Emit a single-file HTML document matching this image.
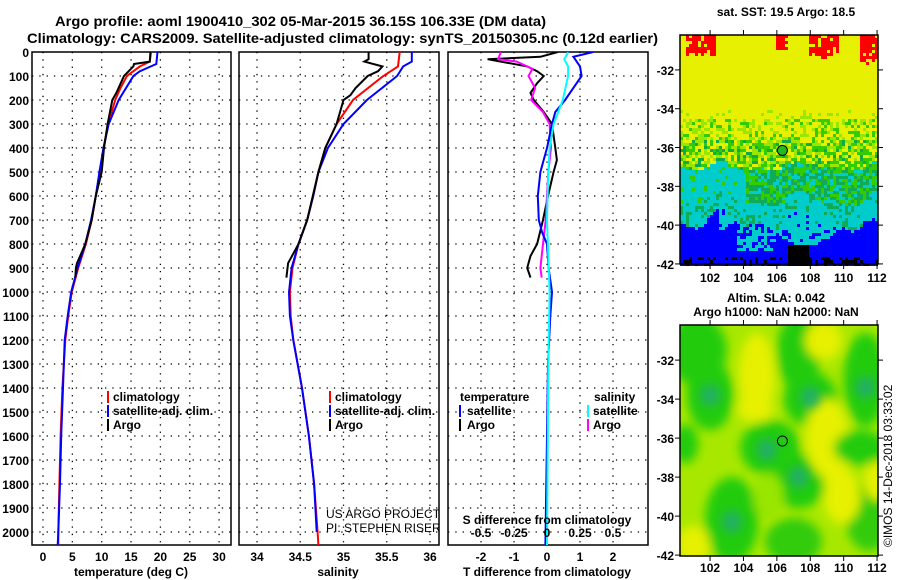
<!DOCTYPE html>
<html><head><meta charset="utf-8"><style>
body{margin:0;background:#fff}
svg{display:block}
text{font-family:"Liberation Sans",sans-serif;font-weight:bold;font-size:12px;fill:#000}
.t{font-size:14px}
.lt{font-weight:normal}
</style></head><body>
<svg id="s" width="900" height="580" viewBox="0 0 900 580" xmlns="http://www.w3.org/2000/svg">
<defs>
<clipPath id="c1"><rect x="32" y="52" width="199" height="493"/></clipPath>
<clipPath id="c2"><rect x="239" y="52" width="200" height="493"/></clipPath>
<clipPath id="c3"><rect x="448" y="52" width="200" height="493"/></clipPath>
<clipPath id="cm2"><rect x="680" y="325" width="198" height="231"/></clipPath>
<filter id="bl" x="-50%" y="-50%" width="200%" height="200%"><feGaussianBlur stdDeviation="5"/></filter>
</defs>
<text class="t" x="55" y="26" textLength="491" lengthAdjust="spacingAndGlyphs">Argo profile: aoml 1900410_302 05-Mar-2015 36.15S 106.33E (DM data)</text>
<text class="t" x="27" y="43" textLength="631" lengthAdjust="spacingAndGlyphs">Climatology: CARS2009. Satellite-adjusted climatology: synTS_20150305.nc (0.12d earlier)</text>
<g id="g"></g>
</svg>
<script>
// ---- data ----
const tClimDepth=[0,40,60,100,150,200,300,400,500,600,700,800,900,1000,1100,1200,1400,1600,1800,2000,2054];
const tClim=[18.4,18.2,16.5,14.3,13.2,12.3,11.1,10.3,9.7,9.0,8.3,7.3,6.0,4.9,4.3,3.8,3.3,3.0,2.8,2.6,2.6];
const tSatDepth=[0,50,80,100,200,300,400,500,600,700,800,900,1000,1100,1200,1400,1600,1800,2000,2054];
const tSat=[19.5,19.3,16.5,15.4,12.9,11.2,10.3,9.6,9.0,8.2,7.2,5.9,4.8,4.2,3.7,3.4,3.1,2.9,2.6,2.5];
const tArgoDepth=[0,40,50,60,100,170,200,300,400,500,600,700,800,880,900,940];
const tArgo=[18.3,18.2,15.5,15.4,13.8,12.5,11.8,11.0,10.4,10.0,9.0,8.3,7.2,5.8,5.6,5.5];
const sClimDepth=[0,60,100,200,300,400,500,600,700,800,900,1000,1100,1200,1400,1600,1800,2000,2054];
const sClim=[35.65,35.63,35.46,35.11,34.92,34.79,34.71,34.65,34.58,34.48,34.41,34.38,34.39,34.42,34.52,34.60,34.66,34.70,34.71];
const sSatDepth=[0,40,60,100,200,300,400,500,600,700,800,900,1000,1100,1200,1400,1600,1800,2000];
const sSat=[35.79,35.79,35.69,35.62,35.27,35.0,34.82,34.71,34.65,34.58,34.48,34.40,34.37,34.38,34.42,34.52,34.60,34.66,34.69];
const sArgoDepth=[0,30,40,60,80,100,150,180,200,300,400,500,700,800,880,940];
const sArgo=[35.29,35.29,35.24,35.45,35.40,35.28,35.14,35.08,35.0,34.92,34.79,34.71,34.58,34.48,34.36,34.34];
const dTArgoDepth=[0,20,30,40,60,80,100,130,170,200,250,300,400,450,500,600,700,800,850,900,940];
const dTArgo=[0.33,-0.2,-1.8,-1.4,-0.6,-0.3,-0.1,-0.3,-0.5,-0.4,-0.1,0.15,0.25,0.3,0.2,0.03,-0.12,-0.3,-0.5,-0.6,-0.5];
const dSArgoDepth=[0,30,40,70,100,150,200,250,300,400,500,600,700,800,900,940];
const dSArgo=[-0.35,-0.37,-0.23,-0.11,-0.14,-0.09,-0.12,-0.03,0.02,0.03,0.01,0,-0.01,-0.03,-0.05,-0.04];
const dTSatDepth=[0,20,60,100,200,250,300,400,500,600,700,750,800,900,1000,1100,1300,1600,2054];
const dTSat=[1.4,0.8,1.0,1.05,0.55,0.25,0.15,0,-0.2,-0.28,-0.25,-0.15,0,0.05,0.15,0.1,0.03,0,-0.05];
const dSSatDepth=[0,30,60,100,200,300,400,500,700,1000,1300,2054];
const dSSat=[0.16,0.13,0.16,0.16,0.12,0.05,0.02,0.01,0,0.02,0.01,0];
const depthTicks=[0,100,200,300,400,500,600,700,800,900,1000,1100,1200,1300,1400,1500,1600,1700,1800,1900,2000];
const tTicks=[0,5,10,15,20,25,30];
const sTicks=[34,34.5,35,35.5,36];
const sTickLabels=["34","34.5","35","35.5","36"];
const dTTicks=[-2,-1,0,1,2];
const dSTicks=[-0.5,-0.25,0,0.25,0.5];
const dSTickLabels=["-0.5","-0.25","0","0.25","0.5"];
const latTicks=[-32,-34,-36,-38,-40,-42];
const lonTicks=[102,104,106,108,110,112];
const argoLon=106.33, argoLat=-36.15;
// ---- scales ----
const yD=d=>52+d*0.24;
const xT=v=>43+v*5.87;
const xS=v=>257+(v-34)*86.5;
const xdT=v=>547+v*33;
const xdS=v=>547+v*132;
const mx=lon=>680+(lon-100.2)*16.7;
const my1=lat=>35+(-30.2-lat)*19.4;
const my2=lat=>325+(-30.2-lat)*19.5;
const NS="http://www.w3.org/2000/svg";
const G=document.getElementById('g');
function el(tag,attrs,parent){const e=document.createElementNS(NS,tag);for(const k in attrs)e.setAttribute(k,attrs[k]);(parent||G).appendChild(e);return e;}
function txt(x,y,s,anchor,parent,cls){const e=el('text',{x:x,y:y,'text-anchor':anchor||'start'},parent);if(cls)e.setAttribute('class',cls);e.textContent=s;return e;}

function panel(x0,w,name,xs,ticks,labels){
  const g=el('g',{});
  
  
  el('rect',{x:x0,y:52,width:w,height:493,fill:'none',stroke:'#000','stroke-width':1.5},g);
  depthTicks.forEach(d=>{if(d>0){const l=el('line',{x1:x0,x2:x0+w,y1:yD(d),y2:yD(d),stroke:'#000','stroke-dasharray':'1.3,6','stroke-width':1.3},g);}});
  ticks.forEach((t,i)=>{const l=el('line',{x1:xs(t),x2:xs(t),y1:52,y2:545,stroke:'#000','stroke-dasharray':'1.3,6','stroke-width':1.3},g);
    if(labels){const e=txt(xs(t),561,labels[i],'middle',g);}});
  return g;
}
function line(depths,vals,xs,color,clip,name,w){
  const pts=depths.map((d,i)=>xs(vals[i]).toFixed(1)+','+yD(d).toFixed(1)).join(' ');
  const p=el('polyline',{points:pts,fill:'none',stroke:color,'stroke-width':w||2,'clip-path':'url(#'+clip+')'});
  
  
}
depthTicks.forEach(d=>{const e=txt(29,yD(d)+5,String(d),'end');});
panel(32,199,'temperature-panel',xT,tTicks,tTicks.map(String));
line(tClimDepth,tClim,xT,'#f00','c1','temp-climatology-line');
line(tSatDepth,tSat,xT,'#00f','c1','temp-satellite-line');
line(tArgoDepth,tArgo,xT,'#000','c1','temp-argo-line');
let e=txt(131,576,'temperature (deg C)','middle');
panel(239,200,'salinity-panel',xS,sTicks,sTickLabels);
line(sClimDepth,sClim,xS,'#f00','c2','sal-climatology-line');
line(sSatDepth,sSat,xS,'#00f','c2','sal-satellite-line');
line(sArgoDepth,sArgo,xS,'#000','c2','sal-argo-line');
e=txt(338,576,'salinity','middle');
[[107,113],[329,335]].forEach(([bx,tx],k)=>{
  [['climatology','#f00'],['satellite-adj. clim.','#00f'],['Argo','#000']].forEach(([s,c],i)=>{
    const y=397+i*14;
    const r=el('rect',{x:bx,y:y-6,width:2,height:12,fill:c});
    const t=txt(tx,y+4,s,'start',null);t.setAttribute('clip-path',k?'url(#c2)':'url(#c1)');
  });
});
e=txt(326,518,'US ARGO PROJECT','start',null,'lt');e.setAttribute('clip-path','url(#c2)');
e=txt(326,532,'PI: STEPHEN RISER','start',null,'lt');e.setAttribute('clip-path','url(#c2)');
panel(448,200,'difference-panel',xdT,dTTicks,dTTicks.map(String));
line(dTArgoDepth,dTArgo,xdT,'#000','c3','tdiff-argo-line');
line(dSArgoDepth,dSArgo,xdS,'#f0f','c3','sdiff-argo-line');
line(dTSatDepth,dTSat,xdT,'#00f','c3','tdiff-satellite-line');
line(dSSatDepth,dSSat,xdS,'#0ff','c3','sdiff-satellite-line');
dSTicks.forEach((t,i)=>{e=txt(xdS(t),537,dSTickLabels[i],'middle');});
e=txt(547,524,'S difference from climatology','middle');
e=txt(547,576,'T difference from climatology','middle');
e=txt(460,401,'temperature');
e=txt(594,401,'salinity');
[[459,467,'satellite','#00f',411],[459,467,'Argo','#000',425],[587,593,'satellite','#0ff',411],[587,593,'Argo','#f0f',425]].forEach(([bx,tx,s,c,y])=>{
  const r=el('rect',{x:bx,y:y-6,width:2,height:12,fill:c});
  const t=txt(tx,y+4,s);
});
// ---- SST map ----
function h(i,j){let n=i*374761393+j*668265263;n=(n^(n>>>13))*1274126177;n=n^(n>>>16);return ((n>>>0)%1000)/1000;}
const m1=el('g',{});
const cw=3;
for(let j=0;j<77;j++)for(let i=0;i<66;i++){
  const x=680+i*cw,y=35+j*cw;
  const lon=100.2+(i*cw+1.5)/16.7,lat=-30.2-(j*cw+1.5)/19.4;
  const r=h(i,j),r2=h(i+100,j*3+7);
  let c='#e6f000';
  const wob=0.6*Math.sin(lon*1.3)+0.4*Math.sin(lon*2.7+1);
  if(lat>-31.8&&((lon>100.5&&lon<102.4&&lat>-31.0-0.4*r)||(lon>105.9&&lon<106.7&&lat>-30.9)||(lon>107.9&&lon<109.7&&lat>-31.1-0.4*r)||(lon>111&&lat>-31.7+0.3*r)) && r2>0.2) c='#ff0000';
  else if(lat>-34.6){ if(lat<-34.1&&r<0.12)c='#99e600';}
  else if(lat>-35.6){ c=r<0.55?'#e6f000':(r<0.8?'#99e600':'#33cc00');}
  else if(lat>-37+0.3*wob){ c=r<0.3?'#99e600':(r<0.6?'#33cc00':(r<0.75?'#11aa44':'#e6f000'));}
  else if(lat>-38.7+0.5*wob){ c=(lon<104.2&&r<0.7)?'#00cccc':(r<0.45?'#11aa55':(r<0.8?'#33cc00':'#00cccc'));}
  else if(lat>-39.8+0.7*wob){ c=r<0.75?'#00cccc':'#11aa55';}
  else if(lat>-40.4+0.7*Math.sin(lon*0.9+2)){ c=(r<0.85)?'#00cccc':'#0000ff'; if(lon<102.5)c='#0000ff';}
  else { c='#0000ff'; if((lon>106.6&&lon<108&&lat<-40.9-0.3*Math.abs(lon-107.3))||(lat<-41.6&&r<0.35)) c='#000000'; if(lon>103.6&&lon<106&&lat>-41.3&&r<0.6)c='#00cccc';}
  el('rect',{x:x,y:y,width:cw,height:cw,fill:c},m1);
}
el('rect',{x:680,y:35,width:198,height:229,fill:'none',stroke:'#000','stroke-width':1.5});
e=el('circle',{cx:mx(argoLon),cy:my1(argoLat),r:5,fill:'#22bb22',stroke:'#000','stroke-width':1});
e=txt(786,16,'sat. SST: 19.5 Argo: 18.5','middle');
// ---- SLA map ----
const m2=el('g',{'clip-path':'url(#cm2)'});
el('rect',{x:680,y:325,width:198,height:231,fill:'#a8e800'},m2);
const fg=el('g',{filter:'url(#bl)'},m2);
const blobs=[
[101.2,-31.5,1.8,1.8,'#22cc11'],[102,-33.8,1.4,1.8,'#22cc11'],[104.8,-32.8,1.1,2.2,'#e6f000'],[107.3,-31.6,1.3,2.0,'#22cc11'],[108.8,-31,1.1,1.0,'#e6f000'],[108,-34,1.6,1.4,'#22cc11'],[111.3,-33,1.3,2.4,'#22cc11'],
[105.6,-36.5,1.8,1.4,'#22cc11'],[107.3,-38.2,1.7,1.4,'#22cc11'],[109,-36,1.3,2.0,'#e6f000'],[109.5,-37.5,0.8,1.4,'#e6f000'],[103.3,-40.2,1.6,2.2,'#22cc11'],[100.5,-36.3,0.8,1.0,'#22cc11'],[111,-36.5,1.6,0.9,'#22cc11'],
[111.5,-40,1.4,1.8,'#33cc11'],[107,-41.3,1.7,1.2,'#33cc11'],[109.9,-39,1.1,1.4,'#e6f000'],[101,-41.5,1.0,1.0,'#e6f000'],[104.7,-34.5,1.1,0.7,'#e6f000'],[112,-38.2,0.8,1,'#e6f000'],[105.5,-39,0.9,1.2,'#99e600']];
blobs.forEach(b=>el('ellipse',{cx:mx(b[0]),cy:my2(b[1]),rx:b[2]*16.7,ry:b[3]*19.5,fill:b[4]},fg));
const fg2=el('g',{filter:'url(#bl)',opacity:0.85},m2);
[[102,-33.8],[108,-33.9],[111.3,-33.4],[107.3,-38],[103.3,-40.3],[105.4,-36.6]].forEach(p=>el('ellipse',{cx:mx(p[0]),cy:my2(p[1]),rx:10,ry:11,fill:'#22aa77'},fg2));
el('rect',{x:680,y:325,width:198,height:231,fill:'none',stroke:'#000','stroke-width':1.5});
e=el('circle',{cx:mx(argoLon),cy:my2(argoLat),r:5,fill:'none',stroke:'#000','stroke-width':1});
e=txt(776,302,'Altim. SLA: 0.042','middle');
e=txt(776,316,'Argo h1000: NaN h2000: NaN','middle');
[[my1,35,264,282],[my2,325,556,572]].forEach(([my,top,bot,ly])=>{
  latTicks.forEach(t=>{const y=my(t);if(y>=top-1&&y<=bot+1){el('line',{x1:675,x2:680,y1:y,y2:y,stroke:'#000'});el('line',{x1:878,x2:883,y1:y,y2:y,stroke:'#000'});
    const q=txt(674,y+5,String(t),'end');}});
  lonTicks.forEach(t=>{const x=mx(t);el('line',{x1:x,x2:x,y1:bot,y2:bot+5,stroke:'#000'});el('line',{x1:x,x2:x,y1:top-5,y2:top,stroke:'#000'});
    const q=txt(x,ly,String(t),'middle');});
});
e=txt(0,0,'©IMOS 14-Dec-2018 03:33:02','start',null,'lt');
e.setAttribute('transform','translate(892,547) rotate(-90)');


</script>
</body></html>
